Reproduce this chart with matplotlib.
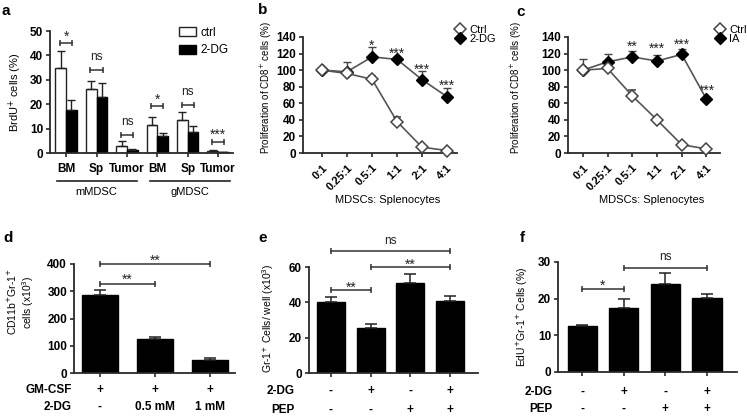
import matplotlib
matplotlib.use('Agg')
import matplotlib.pyplot as plt
import numpy as np
from matplotlib.transforms import blended_transform_factory as blend
from matplotlib.patches import Patch
from matplotlib.lines import Line2D

plt.rcParams['font.family'] = ['Liberation Sans', 'DejaVu Sans']

# ---- panel a: BrdU+ cells
a_groups = ['BM', 'Sp', 'Tumor', 'BM', 'Sp', 'Tumor']
a_ctrl = [34.7, 26.4, 2.7, 11.4, 13.7, 0.9]
a_ctrl_err = [7.1, 3.3, 2.1, 3.4, 3.0, 0.3]
a_2dg = [17.5, 23.1, 1.1, 7.1, 8.8, 0.4]
a_2dg_err = [4.4, 5.4, 0.6, 1.3, 2.4, 0.2]
a_sig = ['*', 'ns', 'ns', '*', 'ns', '***']
a_sig_y = [45, 34, 7.4, 19.3, 19.7, 4.5]
a_sig_ty = [49.6, 39, 12.3, 23.8, 24.6, 9.4]

# ---- panels b, c: proliferation of CD8+ cells
ratios = ['0:1', '0.25:1', '0.5:1', '1:1', '2:1', '4:1']
b_ctrl = [100, 96, 89, 38, 7, 3]
b_ctrl_err = [0, 0, 3.5, 6, 0, 0]
b_2dg = [100, 98, 116, 113, 88.5, 68]
b_2dg_err = [0, 12, 12, 2, 10, 10]
b_sig = ['', '', '*', '***', '***', '***']
b_sig_y = [0, 0, 135, 125, 106, 86]

c_ctrl = [100, 102, 69, 40, 10, 5]
c_ctrl_err = [0, 0, 7, 0, 0, 0]
c_ia = [100, 110, 116, 111, 119, 65]
c_ia_err = [13, 10, 7, 7, 6, 0]
c_sig = ['', '', '**', '***', '***', '***']
c_sig_y = [0, 0, 133, 131.5, 135.5, 81]

# ---- panel d: CD11b+Gr-1+ cells
d_vals = [288, 125, 48]
d_err = [15, 7, 8]
d_gmcsf = ['+', '+', '+']
d_2dg = ['-', '0.5 mM', '1 mM']

# ---- panel e: Gr-1+ cells / well
e_vals = [40.3, 25.5, 51, 41]
e_err = [2.5, 2.0, 5.0, 2.4]

# ---- panel f: EdU+Gr-1+ cells
f_vals = [12.6, 17.5, 24, 20.3]
f_err = [0.2, 2.5, 3.0, 0.9]

row_2dg = ['-', '+', '-', '+']
row_pep = ['-', '-', '+', '+']

W, H = 747, 417
fig = plt.figure(figsize=(W / 100, H / 100), dpi=100)

AX_COL = '#2a2a2a'
TICK_FS = 8.5
LAB_FS = 8
STAR_FS = 10


def add_ax(l, r, t, b):
    ax = fig.add_axes([l / W, 1 - b / H, (r - l) / W, (b - t) / H])
    for s in ['top', 'right']:
        ax.spines[s].set_visible(False)
    for s in ['left', 'bottom']:
        ax.spines[s].set_color(AX_COL)
        ax.spines[s].set_linewidth(1.3)
    ax.tick_params(direction='out', length=3, width=1.2, color=AX_COL,
                   labelsize=TICK_FS, pad=2)
    return ax


def ftext(x, y, s, **kw):
    fig.text(x / W, 1 - y / H, s, **kw)


def sig_text(ax, x, y, label):
    # place the visible glyphs (not the text box) around (x, y)
    if '*' in label:
        fs, off = STAR_FS, -3.2
    else:
        fs, off = 8.5, 0.5
    ax.annotate(label, (x, y), xytext=(0, off), textcoords='offset points',
                ha='center', va='center', fontsize=fs, color='#222222',
                annotation_clip=False)


def bracket(ax, x1, x2, y, label, ty, col='#333333'):
    ax.plot([x1, x2], [y, y], color=col, lw=1.1, marker='|', markersize=5,
            markeredgewidth=1.1, clip_on=False)
    sig_text(ax, 0.5 * (x1 + x2), ty, label)


def bold_ticks(ax):
    for lab in ax.get_yticklabels() + ax.get_xticklabels():
        lab.set_fontweight('bold')


# ================= panel a
ax = add_ax(50, 233, 31, 153)
x = np.arange(len(a_groups))
w = 0.35
zeros = np.zeros(len(x))
ax.bar(x - w / 2, a_ctrl, w, color='white', edgecolor='#222222', lw=1,
       yerr=[zeros, a_ctrl_err], capsize=3,
       error_kw=dict(elinewidth=1, capthick=1, ecolor='#222222'), label='ctrl')
ax.bar(x + w / 2, a_2dg, w, color='black', edgecolor='black', lw=1,
       yerr=[zeros, a_2dg_err], capsize=3,
       error_kw=dict(elinewidth=1, capthick=1, ecolor='#222222'), label='2-DG')
ax.set_xlim(-0.53, 5.49)
ax.set_ylim(0, 50)
ax.set_yticks([0, 10, 20, 30, 40, 50])
ax.set_xticks(x)
ax.set_xticklabels(a_groups, fontsize=TICK_FS)
ax.tick_params(axis='x', pad=4)
bold_ticks(ax)
for i in range(len(x)):
    bracket(ax, i - 0.2, i + 0.2, a_sig_y[i], a_sig[i], a_sig_ty[i])
tr = blend(ax.transData, fig.transFigure)
for (x1, x2, xc, name) in [(-0.3, 2.34, 1.0, 'mMDSC'), (2.76, 5.39, 4.08, 'gMDSC')]:
    ax.plot([x1, x2], [1 - 181 / H, 1 - 181 / H], color='#222222', lw=1.2,
            transform=tr, clip_on=False)
    ax.text(xc, 1 - 192 / H, name, transform=tr, ha='center', va='center',
            fontsize=LAB_FS)
ax.legend(handles=[Patch(facecolor='white', edgecolor='#222222', label='ctrl'),
                   Patch(facecolor='black', edgecolor='black', label='2-DG')],
          loc='upper left', bbox_to_anchor=(179 / W, 1 - 27 / H),
          bbox_transform=fig.transFigure, frameon=False, fontsize=8.5,
          handlelength=1.4, handleheight=0.8, handletextpad=0.4,
          labelspacing=0.45, borderpad=0, borderaxespad=0)
ftext(15, 92, 'BrdU$^{+}$ cells (%)', rotation=90, ha='center', va='center',
      fontsize=LAB_FS)
ftext(6, 11, 'a', fontsize=11, fontweight='bold', ha='center', va='center')


# ================= panels b, c
def line_panel(l, r, xlim, ctrl, ctrl_err, trt, trt_err, sig, sig_y, trt_name,
               leg_x, letter, letter_xy, ylab_x):
    ax = add_ax(l, r, 37, 153)
    xs = np.arange(len(ratios))
    z = np.zeros(len(xs))
    ax.errorbar(xs, trt, yerr=[z, trt_err], color='#555555', lw=1.2,
                marker='D', markersize=6, mfc='black', mec='black',
                ecolor='#444444', elinewidth=1, capsize=3, capthick=1,
                zorder=3, clip_on=False)
    ax.errorbar(xs, ctrl, yerr=[z, ctrl_err], color='#555555', lw=1.2,
                marker='D', markersize=6, mfc='white', mec='#444444', mew=1.1,
                ecolor='#444444', elinewidth=1, capsize=3, capthick=1,
                zorder=4, clip_on=False)
    ax.set_xlim(*xlim)
    ax.set_ylim(0, 140)
    ax.set_yticks(np.arange(0, 141, 20))
    ax.set_xticks(xs)
    ax.set_xticklabels(ratios, rotation=45, ha='right', rotation_mode='anchor',
                       fontsize=8)
    ax.tick_params(axis='x', pad=4)
    bold_ticks(ax)
    for i, s in enumerate(sig):
        if s:
            sig_text(ax, xs[i], sig_y[i], s)
    handles = [Line2D([], [], ls='none', marker='D', markersize=6, mfc='white',
                      mec='#444444', mew=1.1, label='Ctrl'),
               Line2D([], [], ls='none', marker='D', markersize=6, mfc='black',
                      mec='black', label=trt_name)]
    ax.legend(handles=handles, loc='upper left',
              bbox_to_anchor=(leg_x / W, 1 - 25 / H),
              bbox_transform=fig.transFigure, frameon=False, fontsize=8,
              handlelength=0.9, handletextpad=0.4, labelspacing=-0.1,
              borderpad=0, borderaxespad=0)
    ftext((l + r) / 2 + 8, 200, 'MDSCs: Splenocytes', ha='center',
          va='center', fontsize=LAB_FS)
    ftext(ylab_x, 88, 'Proliferation of CD8$^{+}$ cells (%)', rotation=90,
          ha='center', va='center', fontsize=7)
    ftext(*letter_xy, letter, fontsize=11, fontweight='bold', ha='center',
          va='center')
    return ax


line_panel(303, 457, (-0.76, 5.4), b_ctrl, b_ctrl_err, b_2dg, b_2dg_err,
           b_sig, b_sig_y, '2-DG', 455, 'b', (263, 10), 266)
line_panel(568, 720, (-0.6, 5.55), c_ctrl, c_ctrl_err, c_ia, c_ia_err,
           c_sig, c_sig_y, 'IA', 715, 'c', (521, 12), 516)


# ================= bar panels d, e, f
def bar_panel(l, r, t, b, vals, errs, xlim, ylim, yticks, width):
    ax = add_ax(l, r, t, b)
    xs = np.arange(len(vals))
    ax.bar(xs, vals, width, color='black', edgecolor='black',
           yerr=[np.zeros(len(xs)), errs], capsize=4,
           error_kw=dict(elinewidth=1.1, capthick=1.1, ecolor='#222222'))
    ax.set_xlim(*xlim)
    ax.set_ylim(*ylim)
    ax.set_yticks(yticks)
    ax.set_xticks(xs)
    ax.set_xticklabels([])
    bold_ticks(ax)
    return ax, xs


def rows(ax, xs, labels_rows, ys, name_x):
    tr = blend(ax.transData, fig.transFigure)
    for (name, labels), y in zip(labels_rows, ys):
        ftext(name_x, y, name, ha='right', va='center', fontsize=8.5,
              fontweight='bold')
        for xi, s in zip(xs, labels):
            ax.text(xi, 1 - y / H, s, transform=tr, ha='center', va='center',
                    fontsize=8.5, fontweight='bold')


# d
ax, xs = bar_panel(74, 235, 264, 373, d_vals, d_err, (-0.47, 2.45),
                   (0, 400), [0, 100, 200, 300, 400], 0.66)
bracket(ax, 0, 1, 327, '**', 357)
bracket(ax, 0, 2, 400, '**', 428)
rows(ax, xs, [('GM-CSF', d_gmcsf), ('2-DG', d_2dg)], [390, 407], 72)
ftext(12, 302, 'CD11b$^{+}$Gr-1$^{+}$', rotation=90, ha='center', va='center',
      fontsize=7.5)
ftext(28, 302, 'cells (x10$^{3}$)', rotation=90, ha='center', va='center',
      fontsize=7.5)
ftext(8, 238, 'd', fontsize=11, fontweight='bold', ha='center', va='center')

# e
ax, xs = bar_panel(309, 478, 267, 373, e_vals, e_err, (-0.55, 3.7),
                   (0, 60), [0, 20, 40, 60], 0.7)
bracket(ax, 0, 1, 47, '**', 51)
bracket(ax, 1, 3, 60, '**', 63.8)
bracket(ax, 0, 3, 69, 'ns', 74.2)
rows(ax, xs, [('2-DG', row_2dg), ('PEP', row_pep)], [391, 410], 295)
ftext(268, 318, 'Gr-1$^{+}$ Cells/ well (x10$^{3}$)', rotation=90,
      ha='center', va='center', fontsize=7.5)
ftext(263, 238, 'e', fontsize=11, fontweight='bold', ha='center', va='center')

# f
ax, xs = bar_panel(558, 737, 262, 372, f_vals, f_err, (-0.58, 3.72),
                   (0, 30), [0, 10, 20, 30], 0.7)
bracket(ax, 0, 1, 22.7, '*', 24.7)
bracket(ax, 1, 3, 28.4, 'ns', 31.3)
rows(ax, xs, [('2-DG', row_2dg), ('PEP', row_pep)], [392, 409], 553)
ftext(522, 317, 'EdU$^{+}$Gr-1$^{+}$ Cells (%)', rotation=90, ha='center',
      va='center', fontsize=7.5)
ftext(522, 238, 'f', fontsize=11, fontweight='bold', ha='center', va='center')

fig.savefig('out.png', dpi=100)
